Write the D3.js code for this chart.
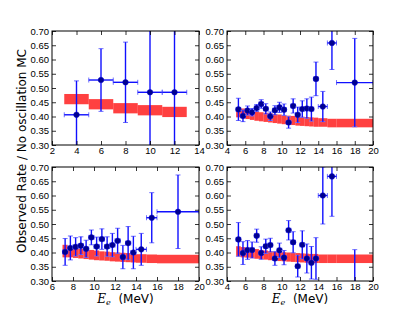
<!DOCTYPE html>
<html>
<head>
<meta charset="utf-8">
<script src="https://cdn.jsdelivr.net/npm/d3@7"></script>
<style>
	body { margin: 0; background: #fff; }
	svg { display: block; font-family: 'DejaVu Sans', sans-serif; }
	.tick text { font-size: 9.5px; fill: #000; }
	.domain { stroke: none; }
	.tick line { stroke: #000; stroke-width: 0.8; }
</style>
</head>
<body>
<svg></svg>
<script>
'use strict'

// ---- data ----

// panel A (top left): 2 MeV bins
let aX = [4, 6, 8, 10, 12]
let aXerr = [1, 1, 1, 1, 1]
let aY = [0.406, 0.528, 0.520, 0.485, 0.485]
let aYerr = [0.119, 0.110, 0.141, 0.25, 0.25]
let aBandLo = [3, 5, 7, 9, 11]
let aBandHi = [5, 7, 9, 11, 13]
let aBand = [0.461, 0.443, 0.429, 0.422, 0.416]
let aBandErr = [0.018, 0.018, 0.018, 0.018, 0.018]

// panel B (top right)
let bX = [5.25, 5.75, 6.25, 6.75, 7.25, 7.75, 8.25, 8.75, 9.25, 9.75, 10.25, 10.75, 11.25, 11.75, 12.25, 12.75, 13.25, 13.75, 14.5, 15.5, 18]
let bXerr = [0.25, 0.25, 0.25, 0.25, 0.25, 0.25, 0.25, 0.25, 0.25, 0.25, 0.25, 0.25, 0.25, 0.25, 0.25, 0.25, 0.25, 0.25, 0.5, 0.5, 2]
let bY = [0.425, 0.402, 0.421, 0.415, 0.430, 0.444, 0.427, 0.401, 0.422, 0.432, 0.424, 0.379, 0.437, 0.406, 0.426, 0.428, 0.426, 0.532, 0.435, 0.658, 0.519]
let bYerr = [0.039, 0.020, 0.016, 0.013, 0.012, 0.015, 0.018, 0.015, 0.016, 0.018, 0.020, 0.020, 0.025, 0.027, 0.029, 0.034, 0.042, 0.059, 0.053, 0.093, 0.155]

// panel C (bottom left)
let cX = [7.25, 7.75, 8.25, 8.75, 9.25, 9.75, 10.25, 10.75, 11.25, 11.75, 12.25, 12.75, 13.25, 13.75, 14.5, 15.5, 18]
let cXerr = [0.25, 0.25, 0.25, 0.25, 0.25, 0.25, 0.25, 0.25, 0.25, 0.25, 0.25, 0.25, 0.25, 0.25, 0.5, 0.5, 2]
let cY = [0.402, 0.416, 0.420, 0.424, 0.413, 0.453, 0.421, 0.447, 0.421, 0.426, 0.441, 0.384, 0.433, 0.400, 0.411, 0.522, 0.543]
let cYerr = [0.047, 0.042, 0.032, 0.031, 0.030, 0.026, 0.033, 0.036, 0.034, 0.041, 0.044, 0.041, 0.058, 0.057, 0.056, 0.088, 0.129]

// panel D (bottom right)
let dX = [5.25, 5.75, 6.25, 6.75, 7.25, 7.75, 8.25, 8.75, 9.25, 9.75, 10.25, 10.75, 11.25, 11.75, 12.25, 12.75, 13.25, 13.75, 14.5, 15.5, 18]
let dXerr = [0.25, 0.25, 0.25, 0.25, 0.25, 0.25, 0.25, 0.25, 0.25, 0.25, 0.25, 0.25, 0.25, 0.25, 0.25, 0.25, 0.25, 0.25, 0.5, 0.5, 2]
let dY = [0.446, 0.398, 0.409, 0.409, 0.459, 0.398, 0.422, 0.426, 0.379, 0.408, 0.382, 0.478, 0.436, 0.352, 0.427, 0.379, 0.364, 0.379, 0.600, 0.667, 0.26]
let dYerr = [0.059, 0.040, 0.033, 0.028, 0.023, 0.022, 0.025, 0.024, 0.024, 0.025, 0.025, 0.034, 0.037, 0.038, 0.049, 0.051, 0.057, 0.073, 0.100, 0.140, 0.15]

// bands for the half-MeV binned panels
let bBandLo = [5, 5.5, 6, 6.5, 7, 7.5, 8, 8.5, 9, 9.5, 10, 10.5, 11, 11.5, 12, 12.5, 13, 13.5, 14, 15, 16]
let bBandHi = [5.5, 6, 6.5, 7, 7.5, 8, 8.5, 9, 9.5, 10, 10.5, 11, 11.5, 12, 12.5, 13, 13.5, 14, 15, 16, 20]
let bBand = [0.414, 0.411, 0.408, 0.405, 0.402, 0.399, 0.397, 0.395, 0.393, 0.391, 0.389, 0.387, 0.386, 0.384, 0.383, 0.382, 0.381, 0.380, 0.379, 0.377, 0.377]
let bBandErr = [0.017, 0.017, 0.017, 0.017, 0.017, 0.016, 0.016, 0.016, 0.016, 0.016, 0.016, 0.016, 0.016, 0.016, 0.016, 0.016, 0.016, 0.016, 0.015, 0.015, 0.015]

let cBandLo = [7, 7.5, 8, 8.5, 9, 9.5, 10, 10.5, 11, 11.5, 12, 12.5, 13, 13.5, 14, 15, 16]
let cBandHi = [7.5, 8, 8.5, 9, 9.5, 10, 10.5, 11, 11.5, 12, 12.5, 13, 13.5, 14, 15, 16, 20]
let cBand = [0.405, 0.401, 0.398, 0.396, 0.394, 0.392, 0.390, 0.388, 0.387, 0.385, 0.384, 0.383, 0.382, 0.381, 0.379, 0.378, 0.377]
let cBandErr = [0.022, 0.018, 0.017, 0.017, 0.017, 0.017, 0.017, 0.016, 0.016, 0.016, 0.016, 0.016, 0.016, 0.016, 0.015, 0.015, 0.015]

let dBand = [0.404, 0.401, 0.399, 0.397, 0.395, 0.393, 0.391, 0.389, 0.388, 0.386, 0.385, 0.384, 0.383, 0.382, 0.381, 0.380, 0.379, 0.379, 0.378, 0.378, 0.378]
let dBandErr = [0.018, 0.018, 0.017, 0.017, 0.017, 0.016, 0.016, 0.016, 0.016, 0.016, 0.016, 0.016, 0.016, 0.016, 0.016, 0.016, 0.016, 0.016, 0.015, 0.015, 0.015]

let yTicks = [0.30, 0.35, 0.40, 0.45, 0.50, 0.55, 0.60, 0.65, 0.70]
let xTicksA = [2, 4, 6, 8, 10, 12, 14]
let xTicksB = [4, 6, 8, 10, 12, 14, 16, 18, 20]
let xTicksC = [6, 8, 10, 12, 14, 16, 18, 20]

// ---- layout ----

let width = 415,
	height = 312

let svg = d3.select('svg')
	.attr('width', width)
	.attr('height', height)

let panels = [
	{ id: 'a', x0: 52, x1: 199, y0: 31, y1: 145, dom: [2, 14], xt: xTicksA,
		x: aX, xe: aXerr, y: aY, ye: aYerr, lo: aBandLo, hi: aBandHi, band: aBand, be: aBandErr },
	{ id: 'b', x0: 227, x1: 373, y0: 31, y1: 145, dom: [4, 20], xt: xTicksB,
		x: bX, xe: bXerr, y: bY, ye: bYerr, lo: bBandLo, hi: bBandHi, band: bBand, be: bBandErr },
	{ id: 'c', x0: 52, x1: 199, y0: 167, y1: 281, dom: [6, 20], xt: xTicksC,
		x: cX, xe: cXerr, y: cY, ye: cYerr, lo: cBandLo, hi: cBandHi, band: cBand, be: cBandErr },
	{ id: 'd', x0: 227, x1: 373, y0: 167, y1: 281, dom: [4, 20], xt: xTicksB,
		x: dX, xe: dXerr, y: dY, ye: dYerr, lo: bBandLo, hi: bBandHi, band: dBand, be: dBandErr }
]

let barColor = '#1010ff',
	capColor = '#7070ff',
	dotColor = '#000090'

panels.forEach(function(p) {

	let x = d3.scaleLinear().domain(p.dom).range([p.x0, p.x1])
	let y = d3.scaleLinear().domain([0.30, 0.70]).range([p.y1, p.y0])

	svg.append('clipPath')
		.attr('id', 'clip-' + p.id)
		.append('rect')
		.attr('x', p.x0)
		.attr('y', p.y0)
		.attr('width', p.x1 - p.x0)
		.attr('height', p.y1 - p.y0)

	let g = svg.append('g')
		.attr('clip-path', 'url(#clip-' + p.id + ')')

	// prediction band
	g.append('g')
		.selectAll('rect')
		.data(p.band)
		.enter().append('rect')
		.attr('x', function(d, i) { return x(p.lo[i]) })
		.attr('width', function(d, i) { return x(p.hi[i]) - x(p.lo[i]) })
		.attr('y', function(d, i) { return y(d + p.be[i]) })
		.attr('height', function(d, i) { return y(d - p.be[i]) - y(d + p.be[i]) })
		.attr('fill', '#ff0000')
		.attr('fill-opacity', 0.75)

	let pts = p.y.map(function(v, i) {
		return { x: p.x[i], xe: p.xe[i], y: v, ye: p.ye[i] }
	})

	let eb = g.append('g')
		.selectAll('g')
		.data(pts)
		.enter().append('g')

	// caps
	eb.append('path')
		.attr('d', function(d) {
			let cx = x(d.x), cy = y(d.y)
			let t = y(d.y + d.ye), b = y(d.y - d.ye)
			let l = x(d.x - d.xe), r = x(d.x + d.xe)
			return 'M' + (cx - 2.5) + ',' + t + 'H' + (cx + 2.5) +
				'M' + (cx - 2.5) + ',' + b + 'H' + (cx + 2.5) +
				'M' + l + ',' + (cy - 2.5) + 'V' + (cy + 2.5) +
				'M' + r + ',' + (cy - 2.5) + 'V' + (cy + 2.5)
		})
		.attr('stroke', capColor)
		.attr('stroke-width', 1)
		.attr('fill', 'none')

	eb.append('line')
		.attr('x1', function(d) { return x(d.x) })
		.attr('x2', function(d) { return x(d.x) })
		.attr('y1', function(d) { return y(d.y + d.ye) })
		.attr('y2', function(d) { return y(d.y - d.ye) })
		.attr('stroke', barColor)
		.attr('stroke-width', 1.4)

	eb.append('line')
		.attr('x1', function(d) { return x(d.x - d.xe) })
		.attr('x2', function(d) { return x(d.x + d.xe) })
		.attr('y1', function(d) { return y(d.y) })
		.attr('y2', function(d) { return y(d.y) })
		.attr('stroke', barColor)
		.attr('stroke-width', 1.4)

	eb.append('circle')
		.attr('cx', function(d) { return x(d.x) })
		.attr('cy', function(d) { return y(d.y) })
		.attr('r', 2.8)
		.attr('fill', dotColor)
		.attr('stroke', '#0000cc')
		.attr('stroke-width', 0.5)

	// axes, ticks pointing inwards on all four sides
	svg.append('g')
		.attr('transform', 'translate(0,' + p.y1 + ')')
		.call(d3.axisBottom(x).tickValues(p.xt).tickSizeInner(-4).tickSizeOuter(0).tickPadding(2).tickFormat(d3.format('d')))

	svg.append('g')
		.attr('transform', 'translate(0,' + p.y0 + ')')
		.call(d3.axisTop(x).tickValues(p.xt).tickSizeInner(-4).tickSizeOuter(0).tickFormat(''))

	svg.append('g')
		.attr('transform', 'translate(' + p.x0 + ',0)')
		.call(d3.axisLeft(y).tickValues(yTicks).tickSizeInner(-4).tickSizeOuter(0).tickPadding(3).tickFormat(d3.format('.2f')))

	svg.append('g')
		.attr('transform', 'translate(' + p.x1 + ',0)')
		.call(d3.axisRight(y).tickValues(yTicks).tickSizeInner(-4).tickSizeOuter(0).tickFormat(''))

	svg.append('rect')
		.attr('x', p.x0)
		.attr('y', p.y0)
		.attr('width', p.x1 - p.x0)
		.attr('height', p.y1 - p.y0)
		.attr('fill', 'none')
		.attr('stroke', '#000')
		.attr('stroke-width', 1)

	if (p.id === 'c' || p.id === 'd') {
		let xl = svg.append('text')
			.attr('x', (p.x0 + p.x1) / 2)
			.attr('y', 303)
			.attr('text-anchor', 'middle')
			.style('font-size', '12px')
		xl.append('tspan')
			.style('font-family', "'DejaVu Serif', serif")
			.style('font-style', 'italic')
			.text('E')
		xl.append('tspan')
			.style('font-family', "'DejaVu Serif', serif")
			.style('font-style', 'italic')
			.style('font-size', '8px')
			.attr('dy', 2)
			.text('e')
		xl.append('tspan')
			.attr('dy', -2)
			.text('\u00a0 (MeV)')
	}
})

svg.append('text')
	.attr('transform', 'translate(26,151) rotate(-90)')
	.attr('text-anchor', 'middle')
	.style('font-size', '12px')
	.text('Observed Rate / No oscillation MC')

</script>
</body>
</html>
